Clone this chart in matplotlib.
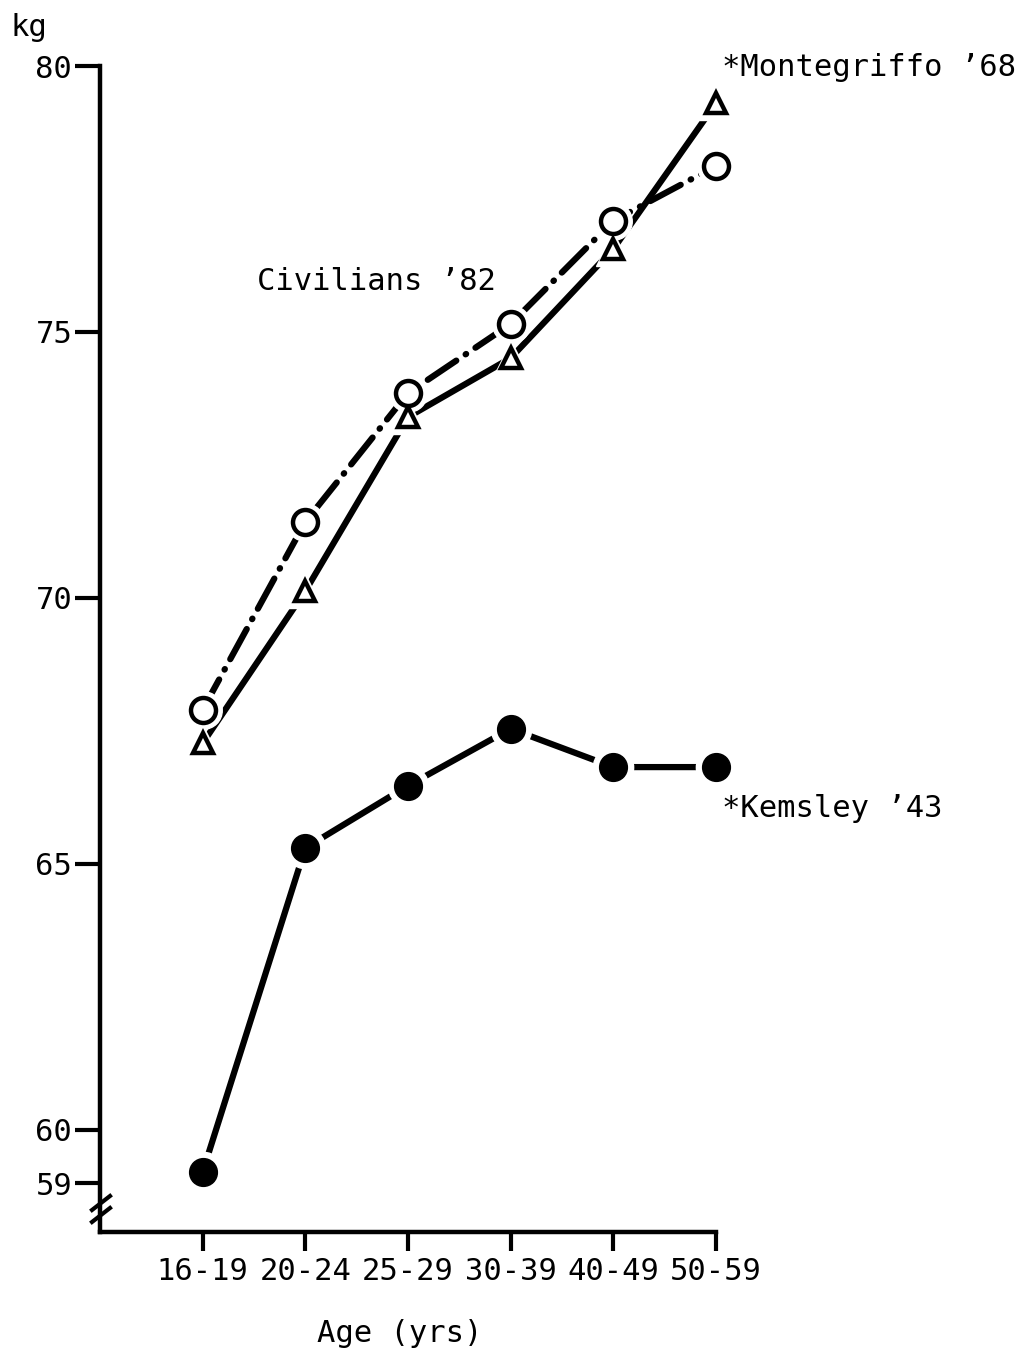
import matplotlib.pyplot as plt
import numpy as np

ages = ['16-19', '20-24', '25-29', '30-39', '40-49', '50-59']
civilians_82 = [67.9, 71.43, 73.85, 75.15, 77.09, 78.12]
montegriffo_68 = [67.27, 70.13, 73.4, 74.51, 76.56, 79.3]
kemsley_43 = [59.21, 65.3, 66.47, 67.54, 66.82, 66.82]
y_ticks = [59, 60, 65, 70, 75, 80]

plt.rcParams['font.family'] = ['DejaVu Sans Mono']
fs = 22

fig = plt.figure(figsize=(10.36, 13.52), dpi=100)
W, H = 1036, 1352
ax = fig.add_axes([100 / W, (H - 1232) / H, 616 / W, (1232 - 66) / H])

x = np.arange(len(ages))
lw = 4.5


def gap_markers(y, marker, size):
    # white halo so the lines stop short of the symbols
    ax.plot(x, y, linestyle='none', marker=marker, markersize=size + 9,
            markerfacecolor='white', markeredgecolor='white', zorder=3, clip_on=False)


ax.plot(x, montegriffo_68, color='black', lw=lw, solid_capstyle='round', zorder=2, clip_on=False)
ax.plot(x, civilians_82, color='black', lw=lw, linestyle=(0, (5.5, 1.8, 0.1, 1.8)),
        dash_capstyle='round', zorder=2, clip_on=False)
ax.plot(x, kemsley_43, color='black', lw=lw, solid_capstyle='round', zorder=2, clip_on=False)

gap_markers(montegriffo_68, '^', 15)
gap_markers(civilians_82, 'o', 18)
gap_markers(kemsley_43, 'o', 20)

ax.plot(x, montegriffo_68, linestyle='none', marker='^', markersize=15, clip_on=False,
        markerfacecolor='white', markeredgecolor='black', markeredgewidth=3.2, zorder=4)
ax.plot(x, civilians_82, linestyle='none', marker='o', markersize=18, clip_on=False,
        markerfacecolor='white', markeredgecolor='black', markeredgewidth=3.2, zorder=4)
ax.plot(x, kemsley_43, linestyle='none', marker='o', markersize=20, clip_on=False,
        markerfacecolor='black', markeredgecolor='black', zorder=4)

ax.set_xlim(-1, 5)
ax.set_ylim(58.08, 80)
ax.set_xticks(x)
ax.set_xticklabels(ages, fontsize=fs)
ax.set_yticks(y_ticks)
ax.set_yticklabels([str(t) for t in y_ticks], fontsize=fs)
ax.tick_params(axis='y', length=18, width=3, pad=2)
ax.tick_params(axis='x', length=14, width=3, pad=4)

for side in ['top', 'right']:
    ax.spines[side].set_visible(False)
for side in ['left', 'bottom']:
    ax.spines[side].set_linewidth(3.2)
ax.spines['bottom'].set_bounds(-1, 5)

# axis break marks
for dy in [0, 12]:
    ax.plot([-8 / 616, 10 / 616], [(22 - dy) / 1166 + 0.0, (36 - dy) / 1166],
            transform=ax.transAxes, color='black', lw=3, clip_on=False, zorder=5)

fig.text(10 / W, 1 - 28 / H, 'kg', fontsize=fs, va='center', ha='left')
fig.text(400 / W, 1 - 1333 / H, 'Age (yrs)', fontsize=fs, va='center', ha='center')
fig.text(257 / W, 1 - 282 / H, 'Civilians \u201982', fontsize=fs, va='center', ha='left')
fig.text(722 / W, 1 - 68 / H, '*Montegriffo \u201968', fontsize=fs, va='center', ha='left')
fig.text(722 / W, 1 - 808 / H, '*Kemsley \u201943', fontsize=fs, va='center', ha='left')

fig.savefig('out.png', dpi=100)
